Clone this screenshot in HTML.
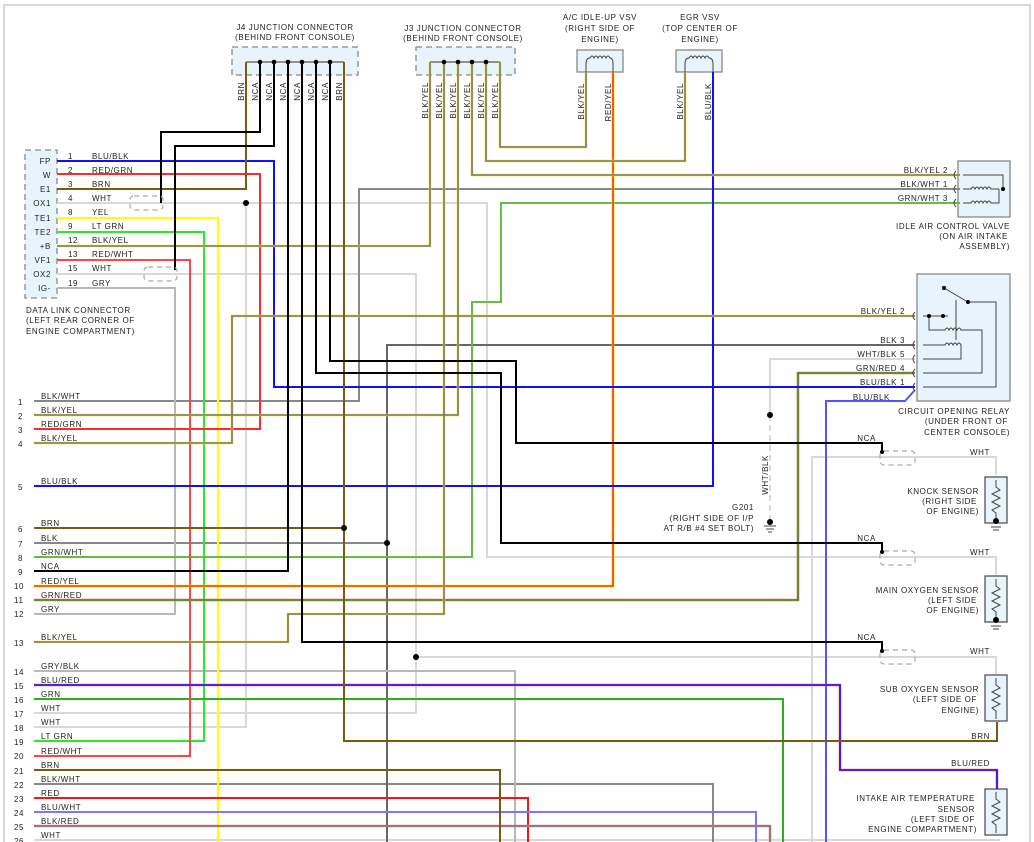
<!DOCTYPE html>
<html><head><meta charset="utf-8"><style>
html,body{margin:0;padding:0;background:#fff}
svg{display:block}
text{font-family:"Liberation Sans",sans-serif;font-size:8px;letter-spacing:0.6px;fill:#222}
.w{fill:none;stroke-width:2}
.u{fill:none;stroke-width:2.6}
.t{fill:none;stroke-width:1.6}
</style></head><body>
<svg width="1034" height="842" viewBox="0 0 1034 842" xmlns="http://www.w3.org/2000/svg">
<rect x="0" y="0" width="1034" height="842" fill="#fff"/>
<path d="M4 842 V5 H1030 V842" fill="none" stroke="#ccc" stroke-width="1.5"/>

<rect x="232" y="47" width="126" height="28" fill="#e8f4fb" stroke="#888" stroke-dasharray="6,4" stroke-width="1.3"/>
<rect x="416" y="47" width="99" height="28" fill="#e8f4fb" stroke="#888" stroke-dasharray="6,4" stroke-width="1.3"/>
<rect x="25" y="150" width="32" height="148" fill="#e8f4fb" stroke="#888" stroke-dasharray="6,4" stroke-width="1.3"/>
<rect x="577" y="50" width="46" height="22" fill="#e8f4fb" stroke="#888" stroke-width="1.3"/>
<rect x="676" y="50" width="46" height="22" fill="#e8f4fb" stroke="#888" stroke-width="1.3"/>
<rect x="958" y="161" width="52" height="56" fill="#e8f4fb" stroke="#888" stroke-width="1.3"/>
<rect x="917" y="274" width="93" height="127" fill="#e8f4fb" stroke="#888" stroke-width="1.3"/>
<rect x="985" y="477" width="22" height="46" fill="#e8f4fb" stroke="#555" stroke-width="1.3"/>
<rect x="985" y="576" width="22" height="46" fill="#e8f4fb" stroke="#555" stroke-width="1.3"/>
<rect x="985" y="675" width="22" height="46" fill="#e8f4fb" stroke="#555" stroke-width="1.3"/>
<rect x="985" y="789" width="22" height="46" fill="#e8f4fb" stroke="#555" stroke-width="1.3"/>

<path d="M246 62 H344" stroke="#555" stroke-width="1.2" fill="none"/>
<path d="M430 62 H500" stroke="#555" stroke-width="1.2" fill="none"/>

<g class="w" stroke="#d8d8d8">
<path d="M57 203 H487 V557 H996 V575"/>
<path d="M246 203 V727 H34"/>
<path d="M57 274 H416 V713 H34"/>
<path d="M416 657 H996 V674"/>
<path d="M812 842 V457 H996 V475"/>
<path d="M34 840 H1000"/>
<path d="M915 359 H770 V415"/>
</g>
<path d="M770 415 V520" stroke="#d8d8d8" stroke-width="2" stroke-dasharray="6,4" fill="none"/>

<g class="w" stroke="#888">
<path d="M34 401 H359 V189 H960"/>
<path d="M34 784 H713 V842"/>
<path d="M34 543 H387"/>
<path d="M387 842 V345 H915" stroke="#666"/>
</g>
<g class="w" stroke="#b8b8b8">
<path d="M57 288 H175 V614 H34"/>
<path d="M34 671 H515 V842"/>
</g>

<path class="w" stroke="#ffff00" d="M57 218 H218 V842"/>
<path class="w" stroke="#22ee22" d="M57 232 H204 V741 H34"/>
<path class="w" stroke="#66bb44" d="M34 557 H472 V302 H501 V203 H960"/>
<path class="w" stroke="#33aa22" d="M34 699 H783 V842"/>

<path class="w" stroke="#ff2a2a" d="M57 174 H260 V429 H34"/>
<path class="w" stroke="#ff4444" d="M57 260 H190 V756 H34"/>
<path class="w" stroke="#ff1111" d="M34 798 H528 V842"/>
<path class="u" stroke="#ffee00" d="M34 586 H613 V72"/>
<path class="t" stroke="#ff3300" d="M34 586 H613 V72"/>
<path class="u" stroke="#ff6666" d="M34 600 H798 V373 H915"/>
<path class="t" stroke="#339922" d="M34 600 H798 V373 H915"/>
<path class="u" stroke="#ee8888" d="M34 826 H770 V842"/>
<path class="t" stroke="#777" d="M34 826 H770 V842"/>

<path class="w" stroke="#1010ff" d="M57 161 H274 V387 H915"/>
<path class="w" stroke="#1010ff" d="M34 486 H713 V72"/>
<path class="w" stroke="#5555ff" d="M826 842 V401 H905 L915 390"/>
<path class="w" stroke="#7777ff" d="M34 812 H756 V842"/>
<path class="u" stroke="#ff6666" d="M34 685 H840 V770 H997 V789"/>
<path class="t" stroke="#1010ff" d="M34 685 H840 V770 H997 V789"/>

<g class="u" stroke="#f0e040">
<path d="M57 246 H430 V62"/><path d="M34 415 H458 V62"/><path d="M34 443 H232 V316 H915"/>
<path d="M34 642 H288 V614 H444 V62"/><path d="M500 62 V147 H586 V72"/><path d="M486 62 V161 H685 V72"/><path d="M472 62 V175 H960"/>
</g>
<g class="t" stroke="#7a7a6a">
<path d="M57 246 H430 V62"/><path d="M34 415 H458 V62"/><path d="M34 443 H232 V316 H915"/>
<path d="M34 642 H288 V614 H444 V62"/><path d="M500 62 V147 H586 V72"/><path d="M486 62 V161 H685 V72"/><path d="M472 62 V175 H960"/>
</g>

<g class="w" stroke="#7a5a10">
<path d="M57 189 H246 V62"/><path d="M34 528 H344"/><path d="M344 62 V741 H997 V722"/><path d="M34 770 H500 V842"/>
</g>

<g class="w" stroke="#000">
<path d="M260 62 V132 H161 V203"/><path d="M274 62 V146 H175 V270"/>
<path d="M288 62 V571 H34"/><path d="M302 62 V642 H882 V652"/>
<path d="M316 62 V373 H501 V543 H882 V553"/><path d="M330 62 V361 H516 V443 H882 V453"/>
</g>

<g fill="none" stroke="#aaa" stroke-width="1.2" stroke-dasharray="5,4">
<rect x="130" y="196" width="33" height="14" rx="4"/>
<rect x="144" y="267" width="33" height="14" rx="4"/>
<rect x="880" y="451" width="35" height="14" rx="4"/>
<rect x="880" y="551" width="35" height="14" rx="4"/>
<rect x="880" y="650" width="35" height="14" rx="4"/>
</g>

<g fill="#000">
<circle cx="260" cy="62" r="2.3"/><circle cx="274" cy="62" r="2.3"/><circle cx="288" cy="62" r="2.3"/><circle cx="302" cy="62" r="2.3"/><circle cx="316" cy="62" r="2.3"/><circle cx="330" cy="62" r="2.3"/>
<circle cx="444" cy="62" r="2.3"/><circle cx="458" cy="62" r="2.3"/><circle cx="472" cy="62" r="2.3"/><circle cx="486" cy="62" r="2.3"/>
<circle cx="246" cy="203" r="3"/><circle cx="344" cy="528" r="3"/><circle cx="387" cy="543" r="3"/><circle cx="416" cy="657" r="3"/><circle cx="770" cy="415" r="3"/><circle cx="770" cy="522" r="3"/>
<circle cx="882" cy="452" r="2"/><circle cx="882" cy="552" r="2"/><circle cx="882" cy="651" r="2"/>
</g>
<path d="M764 526 H776 M766 529 H774 M768 532 H772" stroke="#444" stroke-width="1"/>

<g fill="none" stroke="#444" stroke-width="1">
<path d="M586 72 V64 Q586 58 590 58 q2 -4 4 0 q2 -4 4 0 q2 -4 4 0 q2 -4 4 0 q2 -4 4 0 Q613 58 613 64 V72"/>
<path d="M685 72 V64 Q685 58 689 58 q2 -4 4 0 q2 -4 4 0 q2 -4 4 0 q2 -4 4 0 q2 -4 4 0 Q713 58 713 64 V72"/>
<path d="M963 175 H1003 V189 M963 189 h8 q2 -4 4 0 q2 -4 4 0 q2 -4 4 0 q2 -4 4 0 q2 -4 4 0 h8 M963 203 h8 q2 -4 4 0 q2 -4 4 0 q2 -4 4 0 q2 -4 4 0 q2 -4 4 0 h8 V189"/>
<path d="M956 171 q-4 4 0 8 M956 185 q-4 4 0 8 M956 199 q-4 4 0 8"/>
<path d="M923 316 H948 M929 316 V330 H945 q2 -4 4 0 q2 -4 4 0 q2 -4 4 0 q2 -4 4 0 H982 V373 H923 M923 345 H945 q2 -4 4 0 q2 -4 4 0 q2 -4 4 0 q2 -4 4 0 V359 H923 M923 387 H996 V302 H968 L944 288 M956 300 V340"/>
<path d="M915 312 q-4 4 0 8 M915 341 q-4 4 0 8 M915 355 q-4 4 0 8 M915 369 q-4 4 0 8 M915 383 q-4 4 0 8"/>
<path d="M996 480 V487 l4 3 -8 4 8 4 -8 4 8 4 -8 4 4 3 V521"/>
<path d="M996 579 V586 l4 3 -8 4 8 4 -8 4 8 4 -8 4 4 3 V620"/>
<path d="M996 678 V685 l4 3 -8 4 8 4 -8 4 8 4 -8 4 4 3 V719"/>
<path d="M996 792 V799 l4 3 -8 4 8 4 -8 4 8 4 -8 4 4 3 V833"/>
<path d="M991 527 H1001 M993 530 H999 M991 626 H1001 M993 629 H999"/>
</g>
<g fill="#000"><circle cx="1003" cy="189" r="2"/><circle cx="929" cy="316" r="2"/><circle cx="943" cy="316" r="2"/><circle cx="944" cy="288" r="2"/><circle cx="968" cy="302" r="2"/><circle cx="996" cy="521" r="3"/><circle cx="996" cy="620" r="3"/></g>

<g text-anchor="middle">
<text x="295" y="30">J4 JUNCTION CONNECTOR</text><text x="295" y="40">(BEHIND FRONT CONSOLE)</text>
<text x="463" y="31">J3 JUNCTION CONNECTOR</text><text x="463" y="41">(BEHIND FRONT CONSOLE)</text>
<text x="600" y="20">A/C IDLE-UP VSV</text><text x="600" y="31">(RIGHT SIDE OF</text><text x="600" y="42">ENGINE)</text>
<text x="700" y="20">EGR VSV</text><text x="700" y="31">(TOP CENTER OF</text><text x="700" y="42">ENGINE)</text>
</g>
<text x="26" y="313">DATA LINK CONNECTOR</text><text x="26" y="323">(LEFT REAR CORNER OF</text><text x="26" y="334">ENGINE COMPARTMENT)</text>
<g text-anchor="end">
<text x="1010" y="229">IDLE AIR CONTROL VALVE</text><text x="1008" y="239">(ON AIR INTAKE</text><text x="1010" y="249">ASSEMBLY)</text>
<text x="1010" y="414">CIRCUIT OPENING RELAY</text><text x="1008" y="424">(UNDER FRONT OF</text><text x="1010" y="435">CENTER CONSOLE)</text>
<text x="979" y="494">KNOCK SENSOR</text><text x="977" y="504">(RIGHT SIDE</text><text x="979" y="514">OF ENGINE)</text>
<text x="979" y="593">MAIN OXYGEN SENSOR</text><text x="977" y="603">(LEFT SIDE</text><text x="979" y="613">OF ENGINE)</text>
<text x="979" y="692">SUB OXYGEN SENSOR</text><text x="977" y="702">(LEFT SIDE OF</text><text x="979" y="713">ENGINE)</text>
<text x="975" y="801">INTAKE AIR TEMPERATURE</text><text x="975" y="812">SENSOR</text><text x="975" y="822">(LEFT SIDE OF</text><text x="977" y="832">ENGINE COMPARTMENT)</text>
<text x="754" y="510">G201</text><text x="754" y="521">(RIGHT SIDE OF I/P</text><text x="754" y="531">AT R/B #4 SET BOLT)</text>
<text x="51" y="164">FP</text><text x="51" y="178">W</text><text x="51" y="192">E1</text><text x="51" y="206">OX1</text><text x="51" y="221">TE1</text><text x="51" y="235">TE2</text><text x="51" y="249">+B</text><text x="51" y="263">VF1</text><text x="51" y="277">OX2</text><text x="51" y="291">IG-</text>
<text x="948" y="173">BLK/YEL  2</text><text x="948" y="187">BLK/WHT  1</text><text x="948" y="201">GRN/WHT  3</text>
<text x="905" y="314">BLK/YEL  2</text><text x="905" y="343">BLK  3</text><text x="905" y="357">WHT/BLK  5</text><text x="905" y="371">GRN/RED  4</text><text x="905" y="385">BLU/BLK  1</text><text x="890" y="400">BLU/BLK</text>
<text x="876" y="441">NCA</text><text x="876" y="541">NCA</text><text x="876" y="640">NCA</text>
<text x="990" y="455">WHT</text><text x="990" y="555">WHT</text><text x="990" y="654">WHT</text><text x="990" y="739">BRN</text><text x="990" y="766">BLU/RED</text>
</g>
<g>
<text x="68" y="159">1</text><text x="92" y="159">BLU/BLK</text>
<text x="68" y="173">2</text><text x="92" y="173">RED/GRN</text>
<text x="68" y="187">3</text><text x="92" y="187">BRN</text>
<text x="68" y="201">4</text><text x="92" y="201">WHT</text>
<text x="68" y="215">8</text><text x="92" y="215">YEL</text>
<text x="68" y="229">9</text><text x="92" y="229">LT GRN</text>
<text x="68" y="243">12</text><text x="92" y="243">BLK/YEL</text>
<text x="68" y="257">13</text><text x="92" y="257">RED/WHT</text>
<text x="68" y="271">15</text><text x="92" y="271">WHT</text>
<text x="68" y="286">19</text><text x="92" y="286">GRY</text>
</g>
<g>
<text x="18" y="405">1</text><text x="41" y="399">BLK/WHT</text>
<text x="18" y="419">2</text><text x="41" y="413">BLK/YEL</text>
<text x="18" y="433">3</text><text x="41" y="427">RED/GRN</text>
<text x="18" y="447">4</text><text x="41" y="441">BLK/YEL</text>
<text x="18" y="490">5</text><text x="41" y="484">BLU/BLK</text>
<text x="18" y="532">6</text><text x="41" y="526">BRN</text>
<text x="18" y="547">7</text><text x="41" y="541">BLK</text>
<text x="18" y="561">8</text><text x="41" y="555">GRN/WHT</text>
<text x="18" y="575">9</text><text x="41" y="569">NCA</text>
<text x="14" y="589">10</text><text x="41" y="584">RED/YEL</text>
<text x="14" y="603">11</text><text x="41" y="598">GRN/RED</text>
<text x="14" y="617">12</text><text x="41" y="612">GRY</text>
<text x="14" y="646">13</text><text x="41" y="640">BLK/YEL</text>
<text x="14" y="675">14</text><text x="41" y="669">GRY/BLK</text>
<text x="14" y="689">15</text><text x="41" y="683">BLU/RED</text>
<text x="14" y="703">16</text><text x="41" y="697">GRN</text>
<text x="14" y="717">17</text><text x="41" y="711">WHT</text>
<text x="14" y="731">18</text><text x="41" y="725">WHT</text>
<text x="14" y="745">19</text><text x="41" y="739">LT GRN</text>
<text x="14" y="759">20</text><text x="41" y="754">RED/WHT</text>
<text x="14" y="774">21</text><text x="41" y="768">BRN</text>
<text x="14" y="788">22</text><text x="41" y="782">BLK/WHT</text>
<text x="14" y="802">23</text><text x="41" y="796">RED</text>
<text x="14" y="816">24</text><text x="41" y="810">BLU/WHT</text>
<text x="14" y="830">25</text><text x="41" y="824">BLK/RED</text>
<text x="14" y="844">26</text><text x="41" y="838">WHT</text>
</g>
<g text-anchor="end">
<text transform="translate(244,82) rotate(-90)">BRN</text>
<text transform="translate(258,82) rotate(-90)">NCA</text>
<text transform="translate(272,82) rotate(-90)">NCA</text>
<text transform="translate(286,82) rotate(-90)">NCA</text>
<text transform="translate(300,82) rotate(-90)">NCA</text>
<text transform="translate(314,82) rotate(-90)">NCA</text>
<text transform="translate(328,82) rotate(-90)">NCA</text>
<text transform="translate(342,82) rotate(-90)">BRN</text>
<text transform="translate(428,82) rotate(-90)">BLK/YEL</text>
<text transform="translate(442,82) rotate(-90)">BLK/YEL</text>
<text transform="translate(456,82) rotate(-90)">BLK/YEL</text>
<text transform="translate(470,82) rotate(-90)">BLK/YEL</text>
<text transform="translate(484,82) rotate(-90)">BLK/YEL</text>
<text transform="translate(498,82) rotate(-90)">BLK/YEL</text>
<text transform="translate(584,83) rotate(-90)">BLK/YEL</text>
<text transform="translate(611,83) rotate(-90)">RED/YEL</text>
<text transform="translate(683,83) rotate(-90)">BLK/YEL</text>
<text transform="translate(711,83) rotate(-90)">BLU/BLK</text>
<text transform="translate(768,455) rotate(-90)">WHT/BLK</text>
</g>
</svg>
</body></html>
